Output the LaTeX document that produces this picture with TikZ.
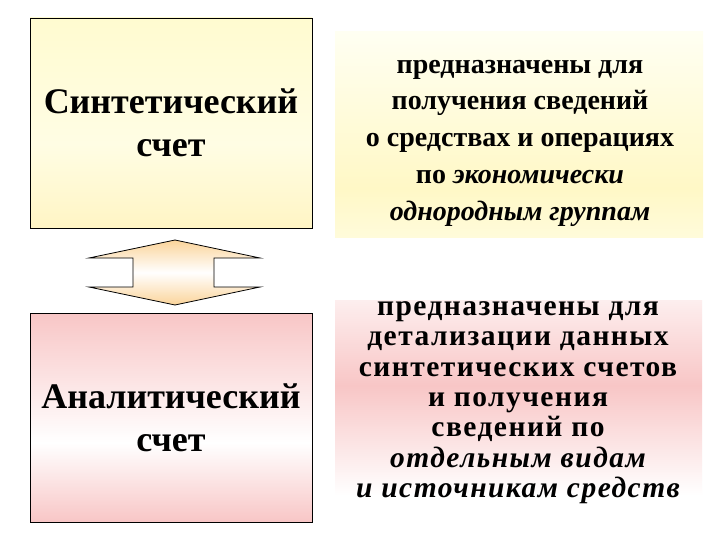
\documentclass[tikz,border=0pt]{standalone}
\usepackage{fontspec}
\setmainfont{Liberation Serif}
\newfontfamily\spacedfont[LetterSpace=5]{Liberation Serif}
\definecolor{ylwtop}{HTML}{FFFBD0}
\definecolor{ylwmid}{HTML}{FFFDE4}
\definecolor{ylwbot}{HTML}{FFF5C4}
\definecolor{trylw}{HTML}{FFF8C6}
\definecolor{trbot}{HTML}{FFFBDA}
\definecolor{trtop}{HTML}{FFFFF2}
\definecolor{pnk}{HTML}{F8C6C6}
\definecolor{pnkfaint}{HTML}{FDEEEE}
\definecolor{peach}{HTML}{FBD49A}
\pgfdeclareverticalshading{synshade}{100bp}{color(0bp)=(ylwbot); color(25bp)=(ylwbot); color(45bp)=(ylwmid); color(75bp)=(ylwtop); color(100bp)=(ylwtop)}
\pgfdeclareverticalshading{anashade}{100bp}{color(0bp)=(pnk); color(25bp)=(pnk); color(44bp)=(white); color(75bp)=(pnk); color(100bp)=(pnk)}
\pgfdeclareverticalshading{trshade}{100bp}{color(0bp)=(trbot); color(25bp)=(trbot); color(37bp)=(trylw); color(75bp)=(trtop); color(100bp)=(trtop)}
\pgfdeclareverticalshading{brshade}{100bp}{color(0bp)=(white); color(25bp)=(white); color(53bp)=(pnk); color(75bp)=(pnkfaint); color(100bp)=(pnkfaint)}
\tikzset{
  acctbox/.style={draw=black, line width=0.9pt, shade, minimum width=282pt, minimum height=210pt, inner sep=0pt, align=center,
    font=\fontsize{36}{43}\selectfont\bfseries},
  desctext/.style={align=center, inner sep=0pt},
}
\begin{document}
\begin{tikzpicture}[x=1pt, y=-1pt]
\useasboundingbox[fill=white] (0,0) rectangle (720,540);
% right-hand backgrounds
\shade[shading=trshade] (335,32) rectangle (703,237);
\shade[shading=brshade] (335,300) rectangle (702,495);
% boxes
\node[acctbox, shading=synshade] (syn) at (171,123) {Синтетический\\счет};
\node[acctbox, shading=anashade, minimum height=209pt] (ana) at (171,417.5) {Аналитический\\счет};
% double arrow
\shade[top color=peach, bottom color=peach, middle color=white, draw=black, line width=0.8pt, line join=miter]
  (175,240) -- (89,258) -- (133,258) -- (133,287) -- (89,287) -- (175,305)
  -- (260,287) -- (214,287) -- (214,258) -- (260,258) -- cycle;
% texts
\node[desctext, font=\fontsize{28}{36.75}\selectfont\bfseries] (syndesc) at (520,143)
  {предназначены для\\получения сведений\\о средствах и операциях\\по {\itshape экономически}\\{\itshape однородным группам}};
\node[desctext, font=\fontsize{29.5}{30.3}\selectfont\spacedfont\bfseries] (anadesc) at (518,402.6)
  {предназначены для\\детализации данных\\синтетических счетов\\и получения\\сведений по\\{\itshape отдельным видам}\\{\itshape и источникам средств}};
\end{tikzpicture}
\end{document}
